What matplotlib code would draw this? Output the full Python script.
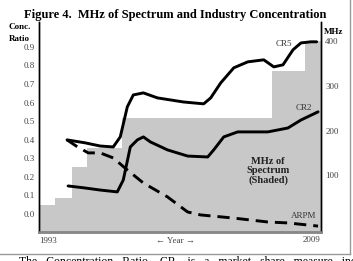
import matplotlib
matplotlib.use("Agg")
import matplotlib.pyplot as plt
from matplotlib.lines import Line2D

plt.rcParams["font.family"] = ["Liberation Serif", "DejaVu Serif"]

# MHz of spectrum (shaded steps), right axis
mhz_edges = [1993.0, 1993.9, 1994.9, 1995.7, 1997.7, 2006.2, 2008.1, 2009.0]
mhz_levels = [34, 49, 118, 161, 228, 333, 400]

# concentration ratios, left axis
cr5_year = [1994.59, 1995.62, 1996.47, 1997.21, 1997.61, 1998.01, 1998.35, 1998.92,
            1999.72, 2001.20, 2002.34, 2002.74, 2003.31, 2004.05, 2004.84, 2005.75,
            2006.32, 2006.84, 2007.41, 2007.86, 2008.43, 2008.75]
cr5 = [0.399, 0.383, 0.366, 0.361, 0.415, 0.577, 0.641, 0.652,
       0.625, 0.603, 0.593, 0.625, 0.706, 0.787, 0.819, 0.830,
       0.792, 0.803, 0.884, 0.921, 0.927, 0.927]

cr2_year = [1994.65, 1995.62, 1996.47, 1997.44, 1997.78, 1998.18, 1998.58, 1998.92,
            1999.32, 2000.29, 2001.43, 2002.57, 2002.91, 2003.48, 2004.27, 2005.98,
            2007.12, 2007.86, 2008.83]
cr2 = [0.151, 0.140, 0.129, 0.119, 0.183, 0.361, 0.399, 0.415,
       0.388, 0.345, 0.312, 0.307, 0.345, 0.415, 0.442, 0.442,
       0.463, 0.506, 0.550]

arpm_year = [1994.59, 1995.11, 1995.79, 1996.47, 1997.21, 1998.01, 1998.92, 2000.29,
             2001.43, 2002.17, 2004.05, 2005.98, 2007.12, 2008.83]
arpm = [0.399, 0.366, 0.329, 0.329, 0.302, 0.237, 0.167, 0.092,
        0.011, -0.005, -0.022, -0.043, -0.048, -0.065]

left_ticks = [0.0, 0.1, 0.2, 0.3, 0.4, 0.5, 0.6, 0.7, 0.8, 0.9]
right_ticks = [100, 200, 300, 400]

fig = plt.figure(figsize=(3.53, 2.61), dpi=100)
ax = fig.add_axes([0.1105, 0.111, 0.799, 0.805])
ax2 = ax.twinx()

mhz_ylim = (-26.8, 443)
ax2.fill_between(mhz_edges, mhz_ylim[0], mhz_levels + [mhz_levels[-1]],
                 step="post", color="#c8c8c8", lw=0)
ax2.set_ylim(*mhz_ylim)
ax2.set_yticks(right_ticks)
ax2.set_yticklabels([str(t) for t in right_ticks], fontsize=6.5, color="#444444")
ax2.tick_params(axis="y", length=0, pad=3)

ax.set_zorder(ax2.get_zorder() + 1)
ax.patch.set_visible(False)

line_kw = dict(color="black", lw=2.1, solid_capstyle="round", solid_joinstyle="round")
ax.plot(cr5_year, cr5, **line_kw)
ax.plot(cr2_year, cr2, **line_kw)
ax.plot(arpm_year, arpm, color="black", lw=2.1, dashes=(4.2, 2.4),
        dash_joinstyle="round")

ax.set_xlim(1993, 2009)
ax.set_ylim(-0.097, 1.034)
ax.set_xticks([])
ax.set_yticks(left_ticks)
ax.set_yticklabels([f"{t:.1f}" for t in left_ticks], fontsize=6.5, color="#444444")
ax.tick_params(axis="y", length=0, pad=3)

for a in (ax, ax2):
    a.spines["top"].set_visible(False)
    a.spines["bottom"].set_color("#888888")
    a.spines["bottom"].set_linewidth(1.8)
    a.spines["left"].set_linewidth(1.0)
    a.spines["right"].set_linewidth(1.0)

# series labels
ax.text(2006.9, 0.916, "CR5", fontsize=6.5, color="#333333", ha="center", va="center")
ax.text(2008.0, 0.570, "CR2", fontsize=6.5, color="#333333", ha="center", va="center")
ax.text(2008.0, -0.013, "ARPM", fontsize=6.5, color="#333333", ha="center", va="center")
ax.text(2006.0, 0.23, "MHz of\nSpectrum\n(Shaded)", fontsize=7.5, fontweight="bold",
        color="#222222", ha="center", va="center", linespacing=1.05)

# titles and axis captions
fig.text(0.497, 0.943, "Figure 4.  MHz of Spectrum and Industry Concentration",
         fontsize=9, fontweight="bold", ha="center", va="center")
fig.text(0.056, 0.895, "Conc.", fontsize=6.5, fontweight="bold", ha="center", va="center")
fig.text(0.056, 0.851, "Ratio", fontsize=6.5, fontweight="bold", ha="center", va="center")
fig.text(0.918, 0.878, "MHz", fontsize=6.5, fontweight="bold", ha="left", va="center")

fig.text(0.136, 0.077, "1993", fontsize=6.5, color="#444444", ha="center", va="center")
fig.text(0.498, 0.077, "\u2190 Year \u2192", fontsize=6.5, color="#444444",
         ha="center", va="center", family=["Liberation Serif", "DejaVu Sans"])
fig.text(0.882, 0.080, "2009", fontsize=6.5, color="#444444", ha="center", va="center")

# frame of the figure box
fig.add_artist(Line2D([0, 0.992], [0.027, 0.027], transform=fig.transFigure,
                      color="#999999", lw=1.0))
fig.add_artist(Line2D([0.992, 0.992], [0.027, 1.0], transform=fig.transFigure,
                      color="#999999", lw=1.0))

# caption cut off at the bottom edge, as in the source page
fig.text(0.055, 0.018, "The   Concentration   Ratio,   CR,   is   a   market   share   measure   industry",
         fontsize=8.5, ha="left", va="top")

fig.savefig("out.png", dpi=100)
